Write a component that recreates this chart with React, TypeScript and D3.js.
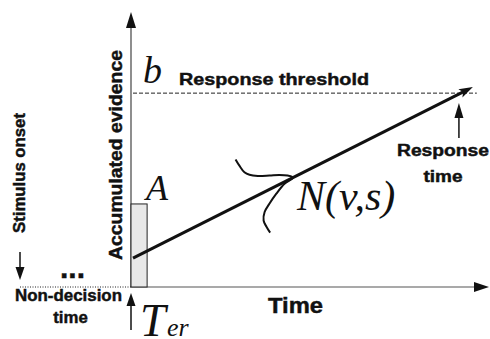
import React from "react";
import * as d3 from "d3";

// ---- Data (abstract units: time 0..1, evidence 0..1) ----
const timeDomain = [0, 1];
const evidenceDomain = [0, 1];
const thresholdB = [0.705];          // response threshold b
const startPointA = [0.302];         // upper bound of start-point range A
const startPoint = [0.105];          // sampled start point
const accumEnd = [0.955, 0.727];     // time, evidence at arrow tip
const responseTime = [0.916];        // response time marker
const thresholdEnd = [0.966];        // end of dashed threshold line
const rectWidth = [0.045];           // width of A box in time units
const driftPeakT = [0.4525];         // where N(v,s) is drawn on the path
// density sketch N(v,s): position along base (-1..1) and relative density
const curveT = [-1.0, -0.82, -0.62, -0.51, -0.4, -0.29, -0.2, -0.1, 0, 0.05, 0.19, 0.34, 0.48, 0.66, 0.83, 1.0];
const curveD = [0.0, 0.02, 0.06, 0.14, 0.3, 0.54, 0.75, 0.91, 1.0, 0.77, 0.51, 0.28, 0.1, 0.0, 0.0, 0.02];

const SANS = "'Liberation Sans', Arial, Helvetica, sans-serif";
const SERIF = "'Liberation Serif', 'Times New Roman', serif";

export default function App() {
  const W = 490, H = 339;
  const x = d3.scaleLinear().domain(timeDomain).range([131, 489]);
  const y = d3.scaleLinear().domain(evidenceDomain).range([287, 12]);

  const x0 = x(0), y0 = y(0);
  const lineStart: [number, number] = [x(0) + 2, y(startPoint[0])];
  const lineEnd: [number, number] = [x(accumEnd[0]), y(accumEnd[1])];

  const pt = x(driftPeakT[0]);
  const frac = (pt - lineStart[0]) / (lineEnd[0] - lineStart[0]);
  const peak: [number, number] = [pt, lineStart[1] + frac * (lineEnd[1] - lineStart[1])];
  const u = [0.417, 0.909];
  const n = [0.909, -0.417];
  const halfLen = 40.5, height = 44.6;
  const c = [peak[0] - height * n[0], peak[1] - height * n[1]];
  const curvePts: [number, number][] = curveT.map((t, i) => [
    c[0] + t * halfLen * u[0] + curveD[i] * height * n[0],
    c[1] + t * halfLen * u[1] + curveD[i] * height * n[1],
  ]);
  const curvePath = d3.line().curve(d3.curveCatmullRom.alpha(0.5))(curvePts) || "";

  const ang = Math.atan2(lineEnd[1] - lineStart[1], lineEnd[0] - lineStart[0]);
  const ah = (tip: [number, number], a: number, len: number, w: number, notch = 0) => {
    const bx = tip[0] - len * Math.cos(a), by = tip[1] - len * Math.sin(a);
    const px = -Math.sin(a) * w / 2, py = Math.cos(a) * w / 2;
    const nx = tip[0] - (len - notch) * Math.cos(a), ny = tip[1] - (len - notch) * Math.sin(a);
    return `M${tip[0]},${tip[1]}L${bx + px},${by + py}L${nx},${ny}L${bx - px},${by - py}Z`;
  };

  const yb = y(thresholdB[0]);
  const yA = y(startPointA[0]);
  const xr = x(responseTime[0]);

  const bold = { fontFamily: SANS, fontWeight: "bold" as const, fill: "#111", stroke: "#111", strokeWidth: 0.45 };

  return (
    <svg width={W} height={H} style={{ position: "absolute", left: 0, top: 0, background: "#fff" }}>
      {/* axes */}
      <line x1={x0} y1={y0} x2={x0} y2={y(1) + 12} stroke="#444" strokeWidth={1.2} />
      <path d={ah([x0, y(1)], -Math.PI / 2, 16, 10)} fill="#111" />
      <line x1={x0} y1={y0} x2={x(1) - 12} y2={y0} stroke="#555" strokeWidth={1.2} />
      <path d={ah([x(1), y0], 0, 15, 10)} fill="#111" />

      {/* dotted extension to stimulus onset */}
      <line x1={20} y1={y0} x2={x0} y2={y0} stroke="#222" strokeWidth={1} strokeDasharray="1,1.5" />

      {/* threshold */}
      <line x1={x0 + 2} y1={yb} x2={x(thresholdEnd[0])} y2={yb} stroke="#222" strokeWidth={1} strokeDasharray="4,2" />

      {/* A box */}
      <rect x={x0} y={yA} width={x(rectWidth[0]) - x0} height={y0 - yA} fill="#e8e8e8" stroke="#222" strokeWidth={1} />

      {/* accumulation path */}
      <line x1={lineStart[0]} y1={lineStart[1]}
        x2={lineEnd[0] - 8 * Math.cos(ang)} y2={lineEnd[1] - 8 * Math.sin(ang)}
        stroke="#111" strokeWidth={3} />
      <path d={ah(lineEnd, ang, 14, 9, 3)} fill="#111" />

      {/* drift distribution */}
      <path d={curvePath} fill="none" stroke="#111" strokeWidth={2} />

      {/* response time arrow */}
      <line x1={xr} y1={138} x2={xr} y2={112} stroke="#111" strokeWidth={1.5} />
      <path d={ah([xr, 103], -Math.PI / 2, 15, 9)} fill="#111" />

      {/* stimulus onset arrow */}
      <line x1={20} y1={252} x2={20} y2={270} stroke="#111" strokeWidth={1.5} />
      <path d={ah([20, 280], Math.PI / 2, 13, 9)} fill="#111" />

      {/* Ter arrow */}
      <line x1={x0} y1={330} x2={x0} y2={302} stroke="#111" strokeWidth={1.5} />
      <path d={ah([x0, 293], -Math.PI / 2, 13, 9)} fill="#111" />

      {/* texts */}
      <text x={143} y={83} fontFamily={SERIF} fontStyle="italic" fontSize={38} fill="#111">b</text>
      <text x={179} y={85} {...bold} fontSize={17}
        textLength={190} lengthAdjust="spacingAndGlyphs">Response threshold</text>
      <text x={146} y={200} fontFamily={SERIF} fontStyle="italic" fontSize={36} fill="#111">A</text>
      <text x={297} y={210} fontFamily={SERIF} fontStyle="italic" fontSize={42} fill="#111">N(v,s)</text>
      <text x={443} y={156} textAnchor="middle" {...bold} fontSize={16}
        textLength={92} lengthAdjust="spacingAndGlyphs">Response</text>
      <text x={443} y={182} textAnchor="middle" {...bold} fontSize={16}
        textLength={39} lengthAdjust="spacingAndGlyphs">time</text>
      <text transform="translate(122,155) rotate(-90)" textAnchor="middle" {...bold}
        fontSize={19} textLength={210} lengthAdjust="spacingAndGlyphs">Accumulated evidence</text>
      <text transform="translate(25,173) rotate(-90)" textAnchor="middle" {...bold}
        fontSize={16.5} textLength={120} lengthAdjust="spacingAndGlyphs">Stimulus onset</text>
      <text x={60} y={278} {...bold} fontSize={30}>...</text>
      <text x={68.5} y={301} textAnchor="middle" {...bold} fontSize={16.8}
        textLength={107} lengthAdjust="spacingAndGlyphs">Non-decision</text>
      <text x={70.5} y={323} textAnchor="middle" {...bold} fontSize={16.8}>time</text>
      <text x={268} y={313} {...bold} fontSize={22.5} textLength={55} lengthAdjust="spacingAndGlyphs">Time</text>
      <text x={140} y={336} fontFamily={SERIF} fontStyle="italic" fontSize={46} fill="#111">T</text>
      <text x={167} y={336} fontFamily={SERIF} fontStyle="italic" fontSize={26} fill="#111">er</text>
    </svg>
  );
}
